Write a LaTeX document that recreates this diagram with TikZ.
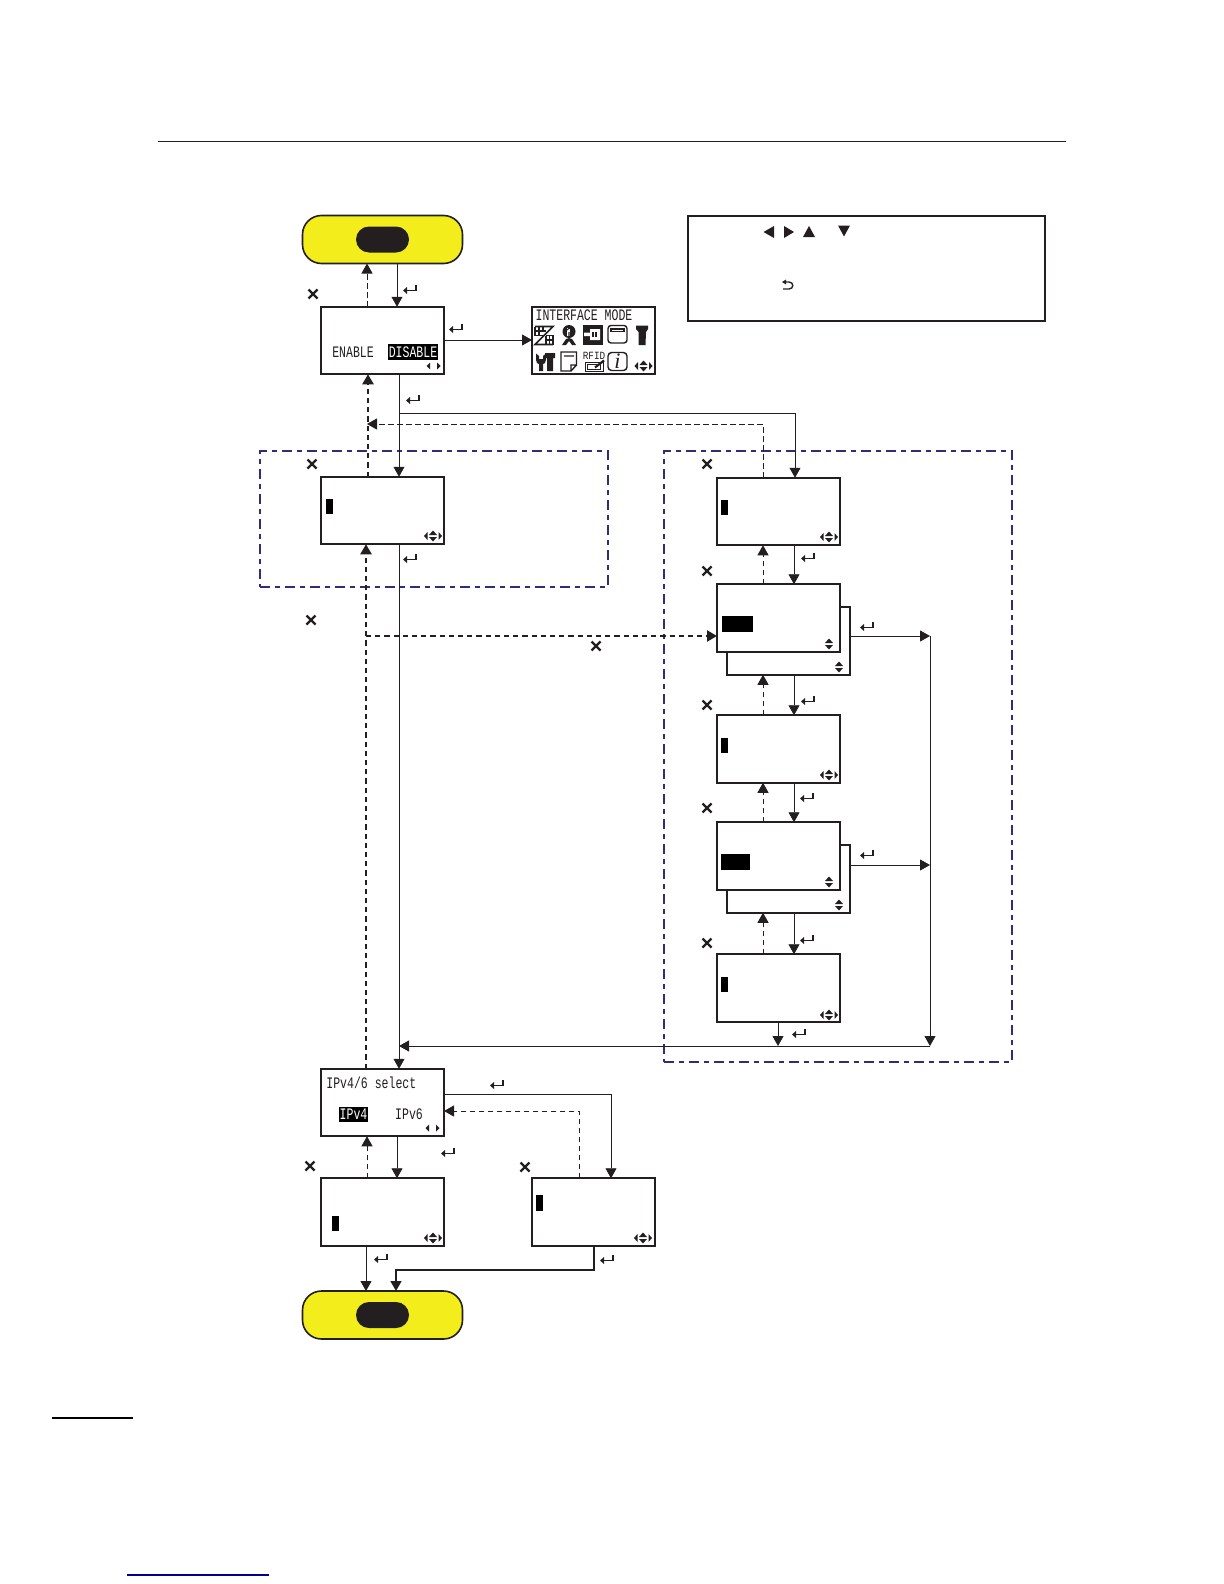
\documentclass[tikz,border=0pt]{standalone}
\usepackage{fontspec}
\usepackage{graphicx}
\usetikzlibrary{arrows.meta}
\newfontfamily\lcdfont{Liberation Mono}
\newfontfamily\iconfont{Liberation Serif}
\newcommand{\lcd}[1]{\scalebox{0.72}[1]{\fontsize{8}{8}\selectfont\lcdfont #1}}
\definecolor{ink}{RGB}{35,31,32}
\definecolor{padyellow}{RGB}{243,238,27}
\definecolor{framenavy}{RGB}{46,46,120}
\tikzset{
  x=0.5pt,y=-0.5pt,
  every path/.style={color=ink},
  screen/.style={draw=ink,fill=white,line width=1pt,minimum width=61.5pt,minimum height=33.75pt,inner sep=0pt,outer sep=0pt},
  keypad/.style={draw=ink,fill=padyellow,line width=.8pt,rounded corners=9.5pt,minimum width=80pt,minimum height=24pt,inner sep=0pt,outer sep=0pt},
  keyhole/.style={fill=ink,rounded corners=6.5pt,minimum width=26.5pt,minimum height=13pt,inner sep=0pt,outer sep=0pt},
  cursorbar/.style={fill=black,minimum width=3.5pt,minimum height=7.5pt,inner sep=0pt},
  blackbar/.style={fill=black,minimum height=8pt,inner sep=0pt},
  lcdtext/.style={inner sep=0pt,text=ink},
  tipped/.style={-{Triangle[length=5pt,width=5.5pt]}},
  go/.style={tipped,line width=.45pt},
  goback/.style={tipped,line width=.5pt,dash pattern=on 2.8pt off 1.7pt},
  gojump/.style={tipped,line width=1.15pt,dash pattern=on 2.6pt off 2pt},
  zone/.style={draw=framenavy,line width=1.05pt,dash pattern=on 5pt off 2.5pt on 2.5pt off 2.5pt},
  crossmark/.pic={\draw[line width=1.15pt] (-4.5,-4.5)--(4.5,4.5) (-4.5,4.5)--(4.5,-4.5);},
  enterkey/.pic={\draw[line width=.95pt] (6,-4)--(6,1.5)--(-3,1.5);\fill (-7,1.5)--(-3,-2)--(-3,5)--cycle;},
  leftright/.pic={\fill (-7,0)--(-3.5,-3.5)--(-3.5,3.5)--cycle;\fill (7,0)--(3.5,-3.5)--(3.5,3.5)--cycle;},
  updown/.pic={\fill (0,-5.5)--(-4,-1)--(4,-1)--cycle;\fill (0,5.5)--(-4,1)--(4,1)--cycle;},
  fourway/.pic={\fill (-9,0)--(-5.5,-4)--(-5.5,4)--cycle;\fill (9,0)--(5.5,-4)--(5.5,4)--cycle;
     \fill (0,-5.5)--(-4,-1)--(4,-1)--cycle;\fill (0,5.5)--(-4,1)--(4,1)--cycle;},
}
\begin{document}
\begin{tikzpicture}
\useasboundingbox (0,0) rectangle (1224,1584);
% page rules
\draw[line width=.6pt] (158,141.5)--(1066,141.5);
\draw[line width=.8pt,color=black] (52,1418)--(133,1418);
\draw[line width=.8pt,color=blue!55!black] (127,1575)--(269,1575);
% zones
\node[zone,minimum width=174pt,minimum height=68pt,inner sep=0pt] (zoneL) at (434,519) {};
\node[zone,minimum width=174pt,minimum height=305.5pt,inner sep=0pt] (zoneR) at (838,756.5) {};
% legend
\node[draw=ink,line width=1pt,minimum width=178.5pt,minimum height=52.5pt,inner sep=0pt] (legend) at (866.5,268) {};
\fill (763.5,232)--(774,226)--(774,238)--cycle;
\fill (794,232)--(784,226)--(784,238)--cycle;
\fill (809,226)--(803,237)--(815,237)--cycle;
\fill (844,236.5)--(838,225.5)--(850,225.5)--cycle;
\draw[line width=.7pt] (785,282)--(789,282) .. controls (794,282) and (794,289) .. (789,289) -- (783,289);
\fill (782,282)--(786,279.5)--(786,284.5)--cycle;
% keypads
\node[keypad] (padtop) at (382.5,239.5) {};
\node[keyhole] (holetop) at (382.5,239.5) {};
\node[keypad] (padend) at (382.5,1315) {};
\node[keyhole] (holeend) at (382.5,1315) {};
% screens
\node[screen] (mode) at (382.5,340.5) {};
\node[lcdtext] (enable) at (353,352) {\lcd{ENABLE}};
\node[blackbar,minimum width=25pt] (disbar) at (413,352) {};
\node[lcdtext,text=white] (dis) at (413,352) {\lcd{DISABLE}};
\pic at (433.5,366) {leftright};
\node[screen] (menu) at (593.5,340.5) {};
\node[lcdtext] (menutitle) at (584,315.5) {\lcd{INTERFACE MODE}};
\pic at (643.5,366) {fourway};
% menu icons
\begin{scope}[line width=.55pt]
 % size icon
 \draw[line width=.8pt] (535,326.5)--(553,326.5)--(535,344.5)--(553,344.5);
 \draw (535,326.5)--(535,335.5)--(544,335.5) (539,326.5)--(539,335.5) (543,326.5)--(543,331) (535,331)--(546,331) (546,335.5)--(553,335.5)--(553,344.5) (546,335.5)--(546,344.5) (546,340)--(553,340) (549.5,335.5)--(549.5,344.5);
 % person
 \fill (569,331.5) circle[radius=6.5];
 \fill[white] (566.5,328) rectangle (570,336);
 \draw (567,330) .. controls (569,327) and (572,328) .. (573,331) (569,332)--(569,336);
 \fill (562,345)--(566,339)--(569,338)--(572,339)--(576,345)--(572,345)--(569,341)--(566,345)--cycle;
 % interface
 \fill (583,325) rectangle (603,344.5);
 \fill[white] (584,332.5)--(590,332.5)--(590,329)--(600,329)--(600,340)--(590,340)--(590,336)--(584,336)--cycle;
 \draw (593,332)--(593,337) (596,332)--(596,337);
 % display
 \draw[line width=.7pt,rounded corners=1.5pt] (608,325.5) rectangle (627,343);
 \draw (611,329) rectangle (624,331.5);
 % hammer
 \fill (636,325.5)--(648,325.5)--(648,329)--(646,332)--(645.5,345)--(638.5,345)--(638.5,332)--(636,329)--cycle;
 % tools
 \fill (547,353)--(555,353)--(555,358)--(553,358)--(553,371)--(547,371)--(547,358)--(545,358)--(545,353)--cycle;
 \fill (536,353.5)--(536,360) .. controls (536,363) and (538,364) .. (539,364) -- (539,371) -- (543,371) -- (543,364) .. controls (544,364) and (546,363) .. (546,360) -- (546,353.5) -- (543,356) -- (543,359) -- (539,359) -- (539,356) -- cycle;
 % document
 \draw[line width=.7pt] (576.5,352)--(561,352)--(561,371)--(571,371)--(576.5,365)--cycle (571,371)--(571,365)--(576.5,365) (564,356)--(574,356);
 % RFID
 \node[inner sep=0pt,text=ink] (rfidlabel) at (594,356) {\scalebox{.85}[1]{\fontsize{5.5}{5.5}\selectfont\lcdfont RFID}};
 \draw[line width=.4pt] (585,362) rectangle (603,371.5) (587.5,364.5) rectangle (600.5,369);
 \draw[line width=1.1pt] (595,367.5)--(604,360.5);
 % info
 \draw[line width=.7pt,rounded corners=1.8pt] (608,352.5) rectangle (627,370.5);
 \node[inner sep=0pt,text=ink] (infolabel) at (617.5,361) {\fontsize{11}{11}\selectfont\iconfont\itshape i};
\end{scope}
% tall screens
\node[screen] (addr) at (382.5,510.5) {};
\node[cursorbar] (addrcur) at (329,506.5) {};
\pic at (433,536) {fourway};
\node[screen] (r1) at (778.5,511.5) {};
\node[cursorbar] (r1cur) at (724.5,507.5) {};
\pic at (829,537) {fourway};
\node[screen] (r2b) at (788.5,641) {};
\pic at (839,667) {updown};
\node[screen] (r2) at (778.5,618) {};
\node[blackbar,minimum width=15.5pt] (r2bar) at (737.5,624) {};
\pic at (829,644) {updown};
\node[screen] (r3) at (778.5,749) {};
\node[cursorbar] (r3cur) at (724.5,745) {};
\pic at (829,775) {fourway};
\node[screen] (r4b) at (788.5,879) {};
\pic at (839,905) {updown};
\node[screen] (r4) at (778.5,856) {};
\node[blackbar,minimum width=14.5pt] (r4bar) at (735.5,862) {};
\pic at (829,882) {updown};
\node[screen] (r5) at (778.5,988) {};
\node[cursorbar] (r5cur) at (724.5,984.5) {};
\pic at (829,1015) {fourway};
\node[screen] (ip) at (382.5,1102.5) {};
\node[lcdtext,anchor=west] (iptitle) at (326,1083) {\lcd{IPv4/6 select}};
\node[blackbar,minimum width=14.5pt,minimum height=7.5pt] (ipbar) at (353.5,1114) {};
\node[lcdtext,text=white] (ip4) at (353.5,1114) {\lcd{IPv4}};
\node[lcdtext] (ip6) at (409,1114) {\lcd{IPv6}};
\pic at (432.5,1128) {leftright};
\node[screen] (v4) at (382.5,1212) {};
\node[cursorbar] (v4cur) at (335.5,1223.5) {};
\pic at (433,1238) {fourway};
\node[screen] (v6) at (593.5,1212) {};
\node[cursorbar,minimum height=8pt] (v6cur) at (539.5,1203) {};
\pic at (643,1238) {fourway};
% junctions
\coordinate (branch) at (399,413);
\coordinate (returnline) at (763,424);
\coordinate (jump) at (366,636);
\coordinate (busE) at (930,636);
\coordinate (busM) at (930,865);
\coordinate (busS) at (930,1046);
\coordinate (ipE) at (611,1094);
\coordinate (ipD) at (579,1111);
\coordinate (elbow) at (594,1270);
% solid connectors
\draw[go] (397,0 |- padtop.south) -- (397,0 |- mode.north);
\draw[go] (mode.east |- 0,340) -- (menu.west |- 0,340);
\draw[go] (399,0 |- mode.south) -- (399,0 |- addr.north);
\draw[go] (branch) -| (795,0 |- r1.north);
\draw[go] (794,0 |- r1.south) -- (794,0 |- r2.north);
\draw[go] (794,0 |- r2b.south) -- (794,0 |- r3.north);
\draw[go] (794,0 |- r3.south) -- (794,0 |- r4.north);
\draw[go] (794,0 |- r4b.south) -- (794,0 |- r5.north);
\draw[go] (778,0 |- r5.south) -- (778,0 |- busS);
\draw[go] (r2b.east |- busE) -- (busE);
\draw[go] (r4b.east |- busM) -- (busM);
\draw[go] (busE) -- (busS);
\draw[go] (busS) -- (399,0 |- busS);
\draw[go] (399,0 |- addr.south) -- (399,0 |- ip.north);
\draw[go] (ip.east |- ipE) -| (611,0 |- v6.north);
\draw[go] (397,0 |- ip.south) -- (397,0 |- v4.north);
\draw[go] (366,0 |- v4.south) -- (366,0 |- padend.north);
\draw[tipped,line width=.8pt] (594,0 |- v6.south) |- (396,0 |- elbow) -- (396,0 |- padend.north);
% dashed connectors
\draw[goback] (367,0 |- mode.north) -- (367,0 |- padtop.south);
\draw[goback] (763,0 |- r1.north) |- (367,0 |- returnline);
\draw[goback] (763,0 |- r2.north) -- (763,0 |- r1.south);
\draw[goback] (763,0 |- r3.north) -- (763,0 |- r2b.south);
\draw[goback] (763,0 |- r4.north) -- (763,0 |- r3.south);
\draw[goback] (763,0 |- r5.north) -- (763,0 |- r4b.south);
\draw[goback] (367,0 |- v4.north) -- (367,0 |- ip.south);
\draw[goback] (579,0 |- v6.north) |- (ip.east |- ipD);
\draw[gojump] (368,0 |- addr.north) -- (368,0 |- mode.south);
\draw[gojump] (366,0 |- ip.north) -- (366,0 |- addr.south);
\draw[gojump] (jump) -- (r2.west |- jump);
% enter marks
\foreach \ex/\ey in {410/289,456/328,413/399,410/558,808/557,867/626,808/700,807/797,867/854,807/939,799/1033,497/1084,448/1152,381/1258,607/1259}
  {\pic at (\ex,\ey) {enterkey};}
% cancel marks
\foreach \cx/\cy in {313/294,312/464,311/620,596/646,707/464,707/571,707/705,707/808,707/943,310/1166,525/1167}
  {\pic at (\cx,\cy) {crossmark};}
\end{tikzpicture}
\end{document}
